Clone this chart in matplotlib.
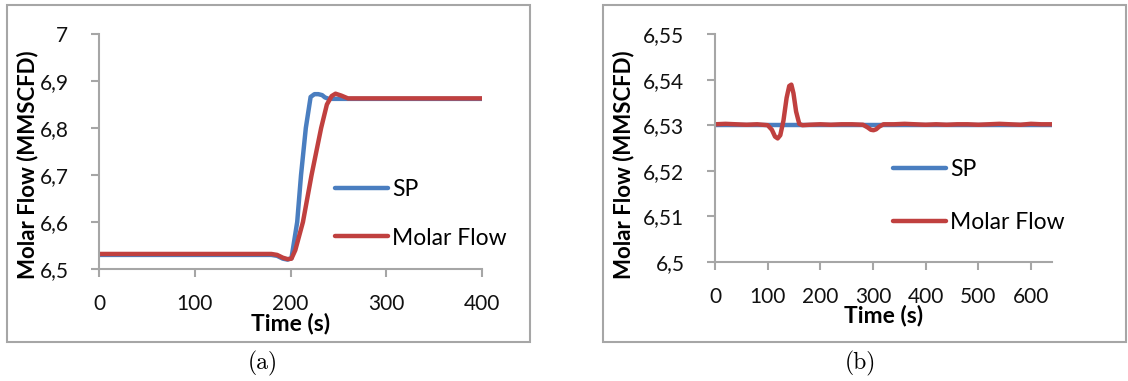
import numpy as np
import matplotlib
matplotlib.use('Agg')
import matplotlib.pyplot as plt
from matplotlib.patches import Rectangle

plt.rcParams['font.family'] = ['Lato', 'DejaVu Sans']

# --- data ---
# (a) step change of the set point
sp_a_t = [0, 180, 186, 192, 197, 201, 207, 211, 216, 221, 225, 229, 233, 236, 240, 250, 300, 350, 400]
sp_a_v = [6.530, 6.530, 6.528, 6.522, 6.520, 6.523, 6.600, 6.700, 6.800, 6.866,
          6.872, 6.872, 6.870, 6.865, 6.862, 6.862, 6.862, 6.862, 6.862]
flow_a_t = [0, 180, 186, 192, 197, 201, 205, 213, 222, 232, 238, 243, 247, 253, 260, 300, 350, 400]
flow_a_v = [6.532, 6.532, 6.530, 6.524, 6.521, 6.522, 6.540, 6.600, 6.700, 6.800,
            6.850, 6.868, 6.873, 6.869, 6.863, 6.863, 6.863, 6.863]

# (b) disturbance rejection, constant set point
sp_b_t = [0, 640]
sp_b_v = [6.530, 6.530]
flow_b_t = [0, 20, 40, 60, 80, 100, 108, 114, 119, 124, 130, 136, 141, 145, 149, 154,
            160, 166, 180, 200, 220, 240, 260, 281, 290, 296, 301, 306, 312, 320, 340,
            360, 380, 400, 420, 440, 460, 480, 500, 520, 540, 560, 580, 600, 620, 640]
flow_b_v = [6.5302, 6.5303, 6.5302, 6.5301, 6.5302, 6.5300, 6.5290, 6.5275, 6.5271, 6.5278,
            6.5310, 6.5360, 6.5386, 6.5389, 6.5370, 6.5330, 6.5303, 6.5300, 6.5301, 6.5302,
            6.5301, 6.5302, 6.5302, 6.5301, 6.5295, 6.5290, 6.5289, 6.5291, 6.5297, 6.5302,
            6.5302, 6.5303, 6.5302, 6.5301, 6.5302, 6.5301, 6.5302, 6.5302, 6.5301, 6.5302,
            6.5303, 6.5302, 6.5301, 6.5303, 6.5302, 6.5302]

xticks_a = [0, 100, 200, 300, 400]
yticks_a = [6.5, 6.6, 6.7, 6.8, 6.9, 7.0]
ylabels_a = ['6,5', '6,6', '6,7', '6,8', '6,9', '7']
xticks_b = [0, 100, 200, 300, 400, 500, 600]
yticks_b = [6.50, 6.51, 6.52, 6.53, 6.54, 6.55]
ylabels_b = ['6,5', '6,51', '6,52', '6,53', '6,54', '6,55']

BLUE = '#4a7ec0'
RED = '#c0403f'
GREY = '#a6a6a6'

W, H = 1128, 381
fig = plt.figure(figsize=(W / 100, H / 100), dpi=100)


def px(x0, y0, x1, y1):
    # pixel box (top-left origin) -> figure fraction [l, b, w, h]
    return [x0 / W, 1 - y1 / H, (x1 - x0) / W, (y1 - y0) / H]


def style_axes(ax, xticks, yticks, ylabels, ylabel_x, ylabel_y):
    for s in ['top', 'right']:
        ax.spines[s].set_visible(False)
    for s in ['left', 'bottom']:
        ax.spines[s].set_color(GREY)
        ax.spines[s].set_linewidth(1.5)
    ax.set_xticks(xticks)
    ax.set_xticklabels([str(t) for t in xticks])
    ax.set_yticks(yticks)
    ax.set_yticklabels(ylabels)
    ax.tick_params(direction='out', length=6, width=1.5, color=GREY,
                   labelsize=15, labelcolor='#111111')
    ax.tick_params(axis='x', pad=12)
    ax.tick_params(axis='y', pad=16)
    ax.set_xlabel('Time (s)', fontsize=16.5, fontweight='bold')
    ax.set_ylabel('Molar Flow (MMSCFD)', fontsize=16, fontweight='bold')
    ax.xaxis.label.set_va('center')
    ax.yaxis.label.set_va('center')
    bb = ax.get_position()
    ax.xaxis.set_label_coords(0.5, -54 / (bb.height * H))
    # label centre in pixels (top-left origin) -> axes fraction
    ax.yaxis.set_label_coords((ylabel_x / W - bb.x0) / bb.width,
                              ((1 - ylabel_y / H) - bb.y0) / bb.height)


# panel frames
for x0, x1 in [(7, 530), (603, 1126)]:
    l, b, w, h = px(x0, 5, x1, 342)
    fig.patches.append(Rectangle((l, b), w, h, transform=fig.transFigure,
                                 fill=False, edgecolor=GREY, linewidth=1.5))

# (a)
ax1 = fig.add_axes(px(99, 34, 482, 269))
ax1.plot(sp_a_t, sp_a_v, color=BLUE, lw=3.2, label='SP', solid_capstyle='round')
ax1.plot(flow_a_t, flow_a_v, color=RED, lw=3.2, label='Molar Flow', solid_capstyle='round')
ax1.set_xlim(0, 400)
ax1.set_ylim(6.5, 7.0)
style_axes(ax1, xticks_a, yticks_a, ylabels_a, 28, 165)
ax1.legend(loc='center left', bbox_to_anchor=(335 / W, 1 - 214 / H),
           bbox_transform=fig.transFigure, frameon=False, fontsize=16.5,
           handlelength=2.3, handletextpad=0.2, labelspacing=1.18,
           borderpad=0, borderaxespad=0)

# (b)
ax2 = fig.add_axes(px(715, 34, 1052, 262))
ax2.plot(sp_b_t, sp_b_v, color=BLUE, lw=3.2, label='SP', solid_capstyle='round')
ax2.plot(flow_b_t, flow_b_v, color=RED, lw=3.2, label='Molar Flow', solid_capstyle='round')
ax2.set_xlim(0, 640)
ax2.set_ylim(6.5, 6.55)
style_axes(ax2, xticks_b, yticks_b, ylabels_b, 624, 165)
ax2.legend(loc='center left', bbox_to_anchor=(893 / W, 1 - 196 / H),
           bbox_transform=fig.transFigure, frameon=False, fontsize=16.5,
           handlelength=2.3, handletextpad=0.2, labelspacing=1.36,
           borderpad=0, borderaxespad=0)

# captions
fig.text(263 / W, 1 - 363 / H, '(a)', family='cmr10', fontsize=17, ha='center', va='center')
fig.text(860 / W, 1 - 363 / H, '(b)', family='cmr10', fontsize=17, ha='center', va='center')

fig.savefig('out.png', dpi=100)
